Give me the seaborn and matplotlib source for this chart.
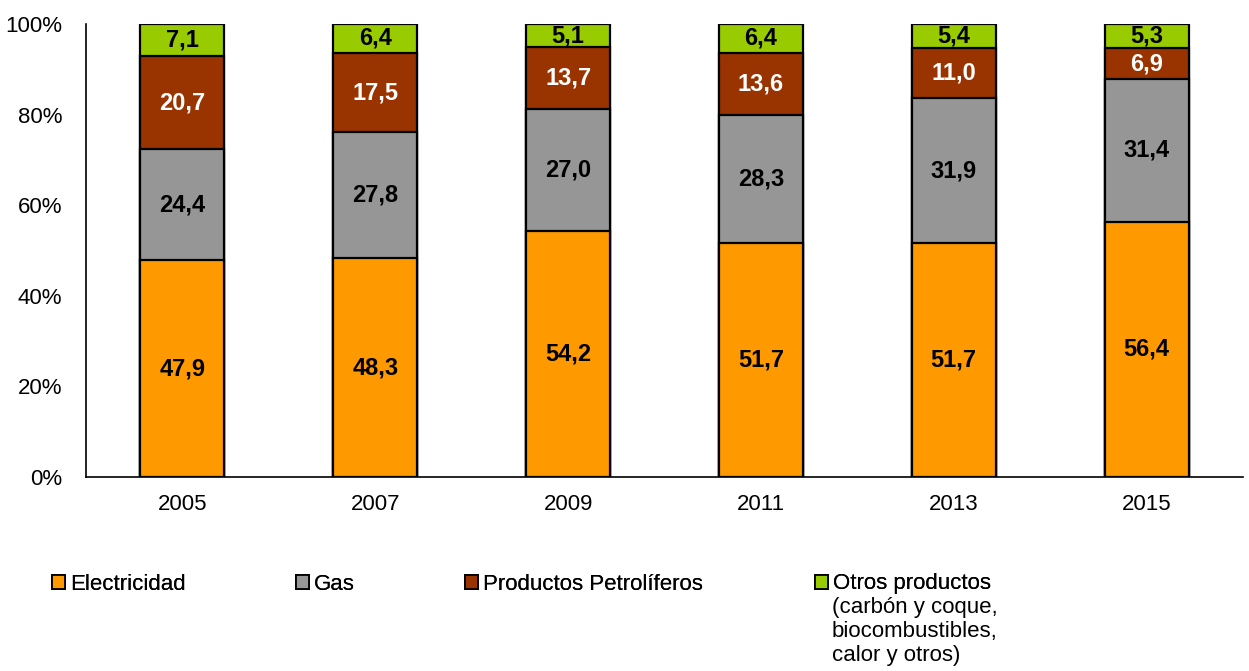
import numpy as np
import pandas as pd
import matplotlib
matplotlib.use("Agg")
import matplotlib.pyplot as plt
from matplotlib.patches import Patch
import seaborn as sns

years = ["2005", "2007", "2009", "2011", "2013", "2015"]
electricidad = [47.9, 48.3, 54.2, 51.7, 51.7, 56.4]
gas = [24.4, 27.8, 27.0, 28.3, 31.9, 31.4]
petroliferos = [20.7, 17.5, 13.7, 13.6, 11.0, 6.9]
otros = [7.1, 6.4, 5.1, 6.4, 5.4, 5.3]

series_names = ["Electricidad", "Gas", "Productos Petrolíferos", "Otros productos"]
series_values = [electricidad, gas, petroliferos, otros]
colors = ["#FF9900", "#969696", "#993300", "#99CC00"]
label_colors = ["black", "black", "white", "black"]

W, H = 1249, 671

sns.set_theme(style="white")
plt.rcParams["font.family"] = ["Liberation Sans", "DejaVu Sans"]
plt.rcParams["text.color"] = "black"
plt.rcParams["xtick.color"] = "black"
plt.rcParams["ytick.color"] = "black"

df = pd.DataFrame({"year": years})
for name, vals in zip(series_names, series_values):
    df[name] = vals
cum = df[series_names].cumsum(axis=1)

fig = plt.figure(figsize=(W / 100, H / 100), dpi=100)
ax = fig.add_axes([86 / W, 1 - 477 / H, (1243 - 86) / W, (477 - 24) / H])

# stacked bars: draw cumulative totals from top layer down
for i in reversed(range(len(series_names))):
    d = pd.DataFrame({"year": years, "top": cum.iloc[:, i].values})
    sns.barplot(data=d, x="year", y="top", color=colors[i], width=0.435,
                edgecolor="black", linewidth=1.6, saturation=1, ax=ax, zorder=2)

for i in range(len(series_names)):
    tops = cum.iloc[:, i].values
    vals = np.array(series_values[i])
    for j, (t, v) in enumerate(zip(tops, vals)):
        ax.text(j, t - v / 2, f"{v:.1f}".replace(".", ","), ha="center", va="center",
                fontsize=17, fontweight="bold", color=label_colors[i], zorder=3)

ax.set_ylim(0, 100)
ax.set_xlim(-0.5, 5.5)
ax.set_yticks(range(0, 101, 20))
ax.set_yticklabels([f"{v}%" for v in range(0, 101, 20)], fontsize=16, color="black")
ax.tick_params(axis="x", length=0, pad=12, labelsize=16, labelcolor="black")
ax.tick_params(axis="y", length=6, width=1, color="#999999", direction="out", pad=11,
               labelcolor="black")
ax.set_xlabel("")
ax.set_ylabel("")
for s in ["top", "right"]:
    ax.spines[s].set_visible(False)
for s in ["left", "bottom"]:
    ax.spines[s].set_color("black")
    ax.spines[s].set_linewidth(1.2)
ax.grid(False)

# legend entries placed like the original (uneven spacing)
legend_x = [52, 296, 465, 815]
legend_labels = ["Electricidad", "Gas", "Productos Petrolíferos", "Otros productos"]
for x0, lab, c in zip(legend_x, legend_labels, colors):
    leg = fig.legend(handles=[Patch(facecolor=c, edgecolor="black", linewidth=1.3)],
                     labels=[lab], loc="center left",
                     bbox_to_anchor=(x0 / W, 1 - 584 / H), frameon=False,
                     borderpad=0, borderaxespad=0, handlelength=0.6,
                     handleheight=0.6, handletextpad=0.2, fontsize=16,
                     labelcolor="black")
    fig.add_artist(leg)

extra = ["(carbón y coque,", "biocombustibles,", "calor y otros)"]
for k, line in enumerate(extra):
    fig.text(832 / W, 1 - (608 + 24 * k) / H, line, fontsize=16, va="center",
             ha="left", color="black")

fig.savefig("out.png", dpi=100)
